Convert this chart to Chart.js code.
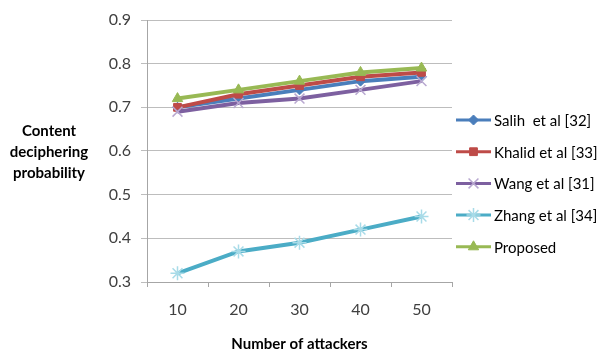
<!DOCTYPE html>
<html>
<head>
<meta charset="utf-8">
<script src="https://cdn.jsdelivr.net/npm/chart.js@4.4.1/dist/chart.umd.min.js"></script>
<style>
  html, body { margin: 0; padding: 0; background: #fff; }
  #wrap { width: 604px; height: 356px; }
</style>
</head>
<body>
<div id="wrap"><canvas id="c" width="604" height="356"></canvas></div>
<script>
// Number of attackers on the x axis
const attackers = ['10', '20', '30', '40', '50'];

// Content deciphering probability per scheme
const salih    = [0.70, 0.72, 0.74, 0.76, 0.77];
const khalid   = [0.70, 0.73, 0.75, 0.77, 0.78];
const wang     = [0.69, 0.71, 0.72, 0.74, 0.76];
const zhang    = [0.32, 0.37, 0.39, 0.42, 0.45];
const proposed = [0.72, 0.74, 0.76, 0.78, 0.79];

const seriesNames = ['Salih  et al [32]', 'Khalid et al [33]', 'Wang et al [31]', 'Zhang et al [34]', 'Proposed'];
const yTitleLines = ['Content', 'deciphering', 'probability'];
const xTitle = 'Number of attackers';

const FONT = 'Lato, "Open Sans", sans-serif';

const styles = [
  { color: '#4a7ebb', marker: 'rectRot',  radius: 5,   pointBorder: '#4a7ebb', pointFill: '#4a7ebb', pbw: 1 },
  { color: '#be4b48', marker: 'rect',     radius: 5.5, pointBorder: '#be4b48', pointFill: '#be4b48', pbw: 1 },
  { color: '#7d60a0', marker: 'crossRot', radius: 7,   pointBorder: '#b8a8d0', pointFill: '#b8a8d0', pbw: 1.5 },
  { color: '#4bacc6', marker: 'star',     radius: 7,   pointBorder: '#a8dbe8', pointFill: '#a8dbe8', pbw: 1.5 },
  { color: '#98b954', marker: 'triangle', radius: 6,   pointBorder: '#98b954', pointFill: '#98b954', pbw: 1 }
];
const values = [salih, khalid, wang, zhang, proposed];

const datasets = values.map((v, i) => ({
  label: seriesNames[i],
  data: v,
  borderColor: styles[i].color,
  backgroundColor: styles[i].pointFill,
  borderWidth: 4,
  pointStyle: styles[i].marker,
  pointRadius: styles[i].radius,
  pointBorderColor: styles[i].pointBorder,
  pointBackgroundColor: styles[i].pointFill,
  pointBorderWidth: styles[i].pbw,
  tension: 0,
  order: values.length - i
}));

// Side legend (line + marker) and horizontal y-axis title
const sideDecor = {
  id: 'sideDecor',
  afterDraw(chart) {
    const ctx = chart.ctx;
    ctx.save();
    // y-axis title, three centred bold lines
    ctx.fillStyle = '#000';
    ctx.font = 'bold 15px ' + FONT;
    ctx.textAlign = 'center';
    ctx.textBaseline = 'alphabetic';
    yTitleLines.forEach((t, k) => ctx.fillText(t, 49, 136 + k * 21));

    // legend entries
    const x0 = 456, x1 = 491, tx = 494;
    const y0 = 120, dy = 31.7;
    ctx.font = '15px ' + FONT;
    ctx.textAlign = 'left';
    ctx.textBaseline = 'middle';
    chart.data.datasets.forEach((ds, i) => {
      const y = y0 + i * dy;
      ctx.strokeStyle = ds.borderColor;
      ctx.lineWidth = 3;
      ctx.beginPath();
      ctx.moveTo(x0, y);
      ctx.lineTo(x1, y);
      ctx.stroke();
      ctx.fillStyle = ds.pointBackgroundColor;
      ctx.strokeStyle = ds.pointBorderColor;
      ctx.lineWidth = ds.pointBorderWidth;
      Chart.helpers.drawPoint(ctx, {
        pointStyle: ds.pointStyle,
        radius: ds.pointRadius,
        borderWidth: ds.pointBorderWidth,
        rotation: 0
      }, (x0 + x1) / 2, y);
      ctx.fillStyle = '#000';
      ctx.fillText(ds.label, tx, y + 1);
    });
    ctx.restore();
  }
};

new Chart(document.getElementById('c'), {
  type: 'line',
  data: { labels: attackers, datasets },
  options: {
    responsive: false,
    animation: false,
    layout: { padding: { left: 0, right: 152, top: 20, bottom: 0 } },
    plugins: {
      legend: { display: false },
      tooltip: { enabled: false }
    },
    scales: {
      x: {
        offset: true,
        grid: {
          offset: true,
          drawOnChartArea: false,
          drawTicks: true,
          tickLength: 5,
          color: '#a6a6a6'
        },
        border: { color: '#a6a6a6', width: 1 },
        ticks: {
          color: '#404040',
          font: { family: FONT, size: 16 },
          padding: 13
        },
        title: {
          display: true,
          text: xTitle,
          color: '#000',
          font: { family: FONT, size: 15, weight: 'bold' },
          padding: { top: 0, bottom: 3 }
        },
        afterFit(scale) { scale.height = 74; }
      },
      y: {
        min: 0.3,
        max: 0.9,
        ticks: {
          stepSize: 0.1,
          color: '#404040',
          font: { family: FONT, size: 16 },
          padding: 10,
          callback: v => v.toFixed(1)
        },
        grid: {
          color: '#bdbdbd',
          tickLength: 6,
          drawTicks: true
        },
        border: { color: '#a6a6a6', width: 1 },
        afterFit(scale) { scale.width = 147; }
      }
    }
  },
  plugins: [sideDecor]
});
</script>
</body>
</html>
